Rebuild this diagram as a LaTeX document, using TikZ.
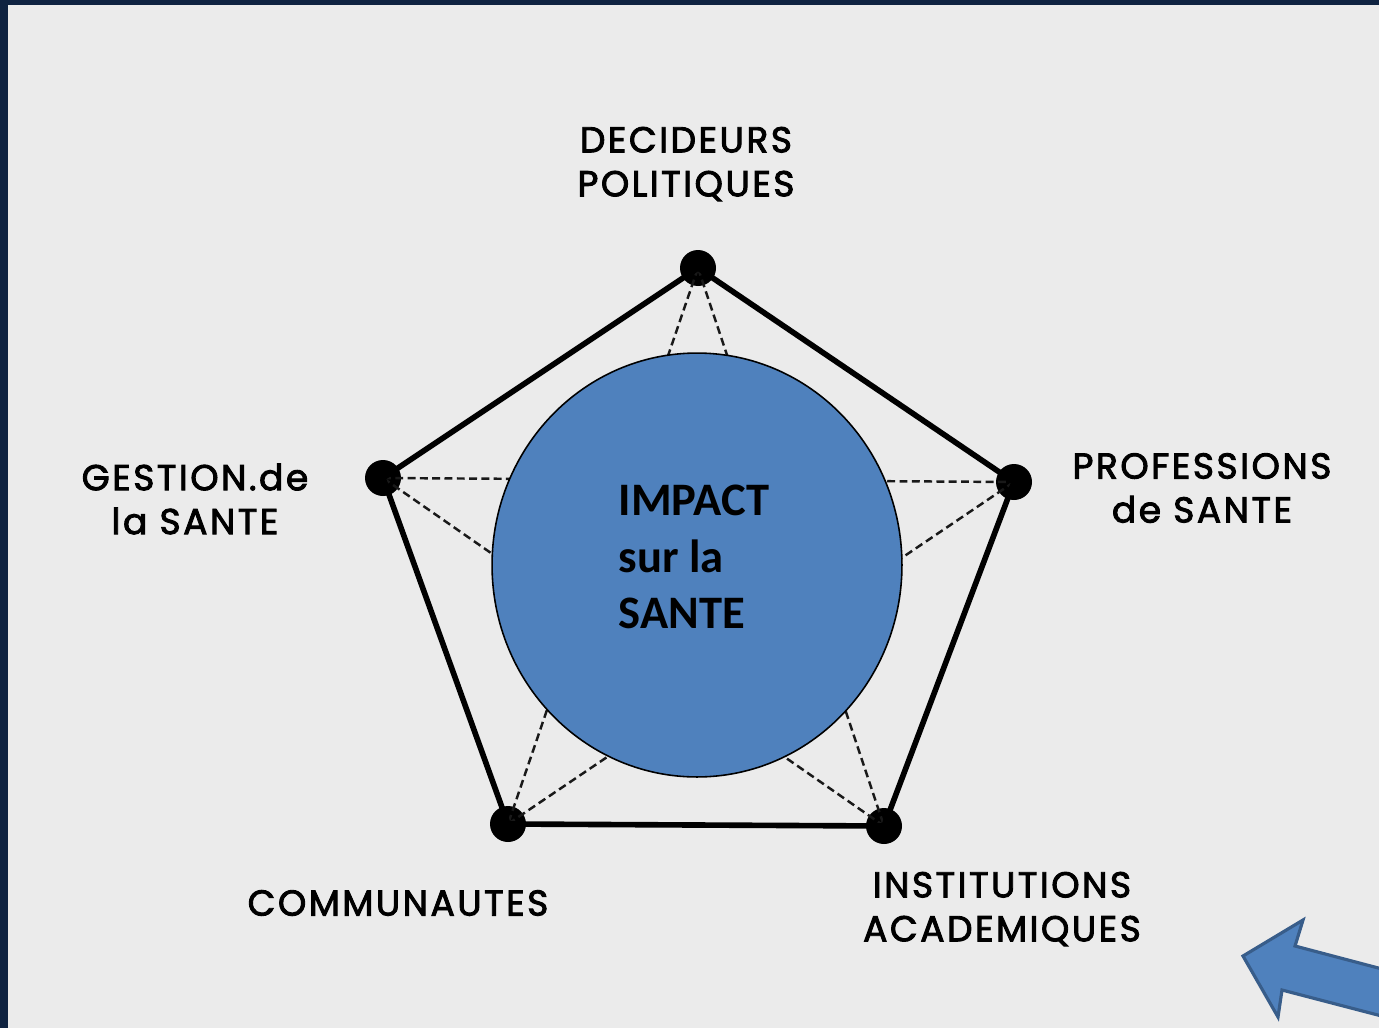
\documentclass[tikz,border=0pt]{standalone}
\usepackage{fontspec}
\setmainfont{Poppins}
\newfontfamily\lblfont[LetterSpace=7, FakeBold=2.5]{Poppins}
\newfontfamily\calibri{Carlito}
\usepackage{tikz}
\usetikzlibrary{positioning,shapes.geometric}

\definecolor{paper}{HTML}{EBEBEB}
\definecolor{navy}{HTML}{0F2341}
\definecolor{impactblue}{HTML}{4F81BD}
\definecolor{arrowedge}{HTML}{385D8A}

\begin{document}
\begin{tikzpicture}[
    x=0.02cm, y=-0.02cm,
    dot/.style={circle, fill=black, minimum size=0.72cm, inner sep=0pt},
    edge/.style={line width=3.2pt, line join=round},
    star/.style={line width=1.4pt, black!90, dash pattern=on 4.5pt off 2.5pt},
    lbl/.style={align=center, font=\lblfont\fontsize{20.5}{25}\selectfont},
    impact/.style={ellipse, draw, fill=impactblue, line width=0.9pt,
        minimum width=8.2cm, minimum height=8.48cm, inner sep=0pt},
    impacttxt/.style={align=left, inner sep=0pt, font=\calibri\bfseries\fontsize{26.5}{32.3}\selectfont},
    bigarrow/.style={fill=impactblue, draw=arrowedge, line width=1.8pt, line join=miter}
]

% fond et cadre
\useasboundingbox (0,0) rectangle (1379,1028);
\clip (0,0) rectangle (1379,1028);
\fill[navy] (0,0) rectangle (1379,1028);
\fill[paper] (8,5) rectangle (1379,1028);

% sommets du pentagone
\node[dot] (dec) at (698,268) {};
\node[dot] (prof) at (1014,482) {};
\node[dot] (inst) at (884,826) {};
\node[dot] (comm) at (508,824) {};
\node[dot] (gest) at (383,478) {};

% etoile en pointilles
\draw[star] (dec.center) -- (inst.center);
\draw[star] (dec.center) -- (comm.center);
\draw[star] (gest.center) -- (prof.center);
\draw[star] (gest.center) -- (inst.center);
\draw[star] (prof.center) -- (comm.center);

% pentagone
\draw[edge] (dec.center) -- (prof.center) -- (inst.center) -- (comm.center) -- (gest.center) -- cycle;

% cercle central
\node[impact] (sante) at (697,565) {};
\node[impacttxt] (santeT) at (694,557) {IMPACT\\sur la\\SANTE};

% etiquettes
\node[lbl] (decL) at (686,164) {DECIDEURS\\POLITIQUES};
\node[lbl] (profL) at (1202,488) {PROFESSIONS\\de SANTE};
\node[lbl] (instL) at (1002,909) {INSTITUTIONS\\ACADEMIQUES};
\node[lbl] (commL) at (398,903) {COMMUNAUTES};
\node[lbl] (gestL) at (195,499) {GESTION.de\\la SANTE};

% fleche
\draw[bigarrow] (1243,956) -- (1303,920) -- (1295,946) -- (1420,979)
    -- (1420,1026) -- (1282,990) -- (1278,1017) -- cycle;

\end{tikzpicture}
\end{document}
